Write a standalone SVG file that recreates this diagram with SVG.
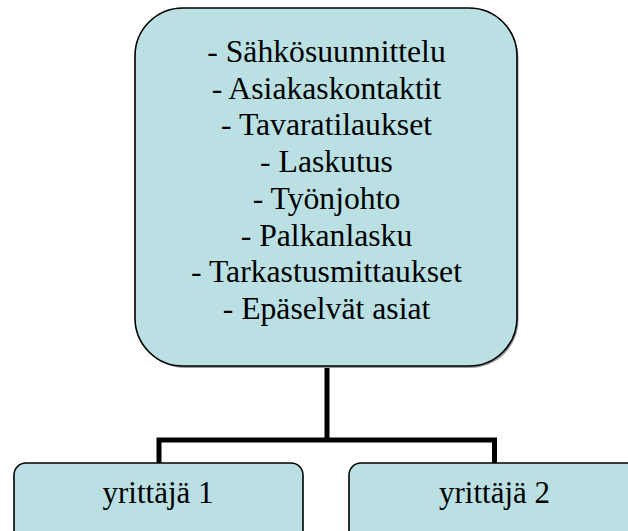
<svg xmlns="http://www.w3.org/2000/svg" width="628" height="531" viewBox="0 0 628 531">
<style>
.box{fill:#BAE0E3;stroke:#000;stroke-width:1.6}
.shadow{fill:#9a9a9a}
.t{font-family:"Liberation Serif","Times New Roman",serif;font-size:31.7px;fill:#000;text-anchor:middle}
.tb{font-family:"Liberation Serif","Times New Roman",serif;font-size:31px;fill:#000;text-anchor:middle}
.conn{fill:none;stroke:#000;stroke-width:5;stroke-linejoin:miter;stroke-linecap:butt}
</style>
<rect width="628" height="531" fill="#fff"/>
<g id="connectors">
<path class="conn" d="M327 366 V440 M159 463 V440 H494.5 V463"/>
</g>
<g id="main">
<rect class="shadow" x="136.5" y="10" width="382" height="358" rx="48"/>
<rect class="box" x="135" y="8" width="382" height="358" rx="48"/>
<text class="t" x="326.5" y="62">- Sähkösuunnittelu</text>
<text class="t" x="326.5" y="98.7">- Asiakaskontaktit</text>
<text class="t" x="326.5" y="135.4">- Tavaratilaukset</text>
<text class="t" x="326.5" y="172.1">- Laskutus</text>
<text class="t" x="326.5" y="208.8">- Työnjohto</text>
<text class="t" x="326.5" y="245.5">- Palkanlasku</text>
<text class="t" x="326.5" y="282.2">- Tarkastusmittaukset</text>
<text class="t" x="326.5" y="318.9">- Epäselvät asiat</text>
</g>
<g id="yrittaja1">
<rect class="box" x="14" y="463" width="289" height="90" rx="12"/>
<text class="tb" x="158" y="503">yrittäjä 1</text>
</g>
<g id="yrittaja2">
<rect class="box" x="349" y="463" width="291" height="90" rx="12"/>
<text class="tb" x="494.5" y="503">yrittäjä 2</text>
</g>
</svg>
